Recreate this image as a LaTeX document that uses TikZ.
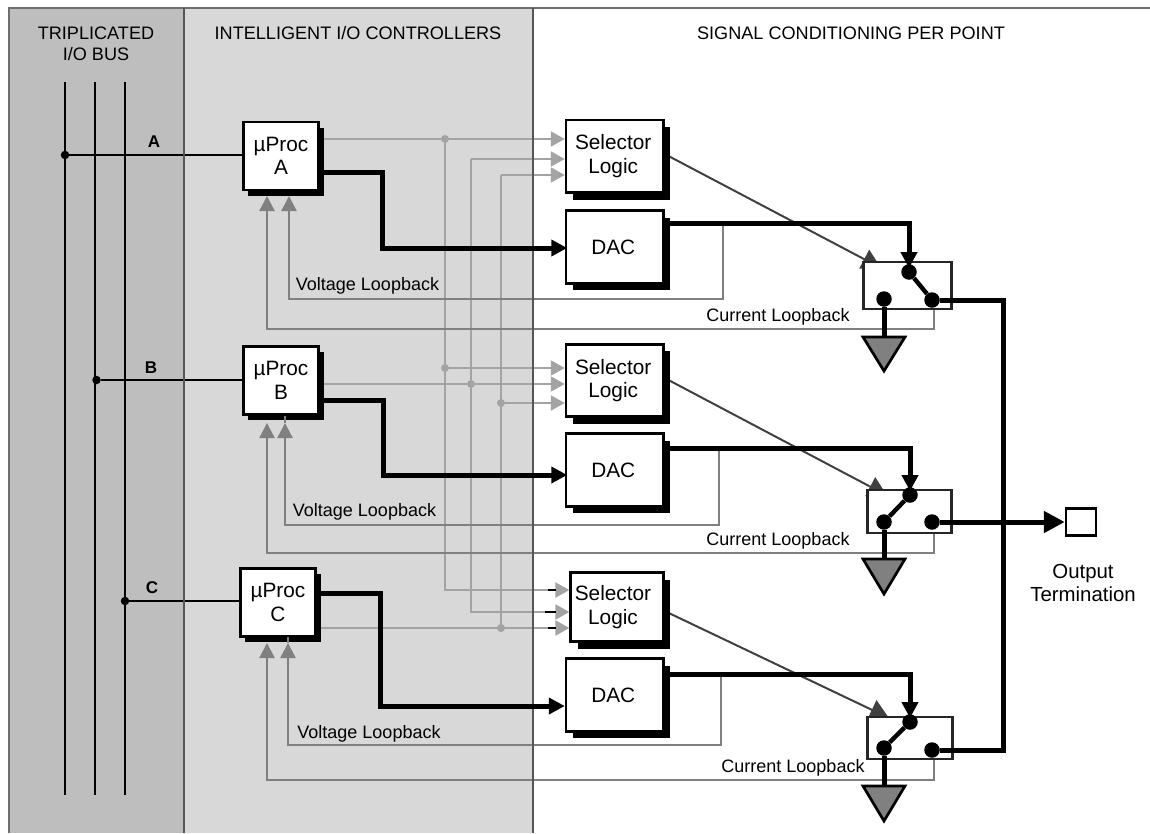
\documentclass[tikz,border=0pt]{standalone}
\usepackage{fontspec}
\setmainfont{Liberation Sans}
\usetikzlibrary{arrows.meta,shadows}
\pgfdeclarelayer{bg}\pgfdeclarelayer{wires}\pgfdeclarelayer{top}
\pgfsetlayers{bg,wires,main,top}
\definecolor{busgray}{HTML}{BEBEBE}
\definecolor{ctlgray}{HTML}{D8D8D8}
\definecolor{rulegray}{HTML}{555555}
\definecolor{selgray}{HTML}{A3A3A3}
\definecolor{loopgray}{HTML}{808080}
\definecolor{diaggray}{HTML}{404040}
\tikzset{
  hdr/.style={font=\fontsize{18.1}{21}\selectfont,align=center,inner sep=0pt,text=black},
  note/.style={font=\fontsize{18}{21}\selectfont,align=center,inner sep=0pt,text=black},
  buslabel/.style={font=\fontsize{17}{20}\bfseries\selectfont,inner sep=0pt},
  blockbase/.style={draw=black,line width=2.6pt,fill=white,inner sep=0pt,align=center,font=\fontsize{20.8}{23.5}\selectfont},
  procbox/.style={blockbase,minimum width=75.4pt,minimum height=68pt,general shadow={fill=black,shadow xshift=5pt,shadow yshift=-5.5pt}},
  sigbox/.style={blockbase,minimum width=97.3pt,minimum height=72.5pt,general shadow={fill=black,shadow xshift=7pt,shadow yshift=-7pt}},
  switchbox/.style={draw=black!85,line width=2.4pt,fill=white,inner sep=0pt},
  termbox/.style={draw=black,line width=2.5pt,fill=white,inner sep=0pt,minimum width=30pt,minimum height=27pt},
  contact/.style={circle,fill=black,inner sep=0pt,minimum size=15.5pt},
  busdot/.style={circle,fill=black,inner sep=0pt,minimum size=8.5pt},
  seldot/.style={circle,fill=selgray,inner sep=0pt,minimum size=8pt},
  busline/.style={draw=black,line width=2.8pt},
  tapline/.style={draw=black,line width=2.2pt},
  selwire/.style={draw=selgray,line width=2.1pt},
  selarrow/.style={selwire,-{Triangle[length=14pt,width=15pt]}},
  loopwire/.style={draw=loopgray,line width=2.3pt,line join=miter},
  looparrow/.style={loopwire,-{Triangle[length=15pt,width=15pt]}},
  power/.style={draw=black,line width=5pt,line join=miter},
  powerarrow/.style={power,-{Triangle[length=16pt,width=16pt]}},
  bigarrow/.style={power,-{Triangle[length=21pt,width=21pt]}},
  diag/.style={draw=diaggray,line width=2pt,-{Triangle[length=19pt,width=21pt]}},
  gnd/.style={draw=black,line width=2.7pt,fill=black!50,line join=miter},
}
\begin{document}
\begin{tikzpicture}[x=1pt,y=-1pt]
\useasboundingbox (0,0) rectangle (1150,833);

% panels
\begin{pgfonlayer}{bg}
  \fill[busgray] (9,8) rectangle (184,833);
  \fill[ctlgray] (184,8) rectangle (533,833);
  \draw[rulegray!85,line width=2.2pt] (1150,8) -- (9,8) -- (9,833);
\end{pgfonlayer}

% headings
\node[hdr] (h1) at (96,43.5) {TRIPLICATED\\I/O BUS};
\node[hdr] (h2) at (358,33) {INTELLIGENT I/O CONTROLLERS};
\node[hdr] (h3) at (851,33) {SIGNAL CONDITIONING PER POINT};

% controllers
\node[procbox] (pA) at (281,156) {µProc\\A};
\node[procbox] (pB) at (281,380.5) {µProc\\B};
\node[procbox] (pC) at (278,602.5) {µProc\\C};

% selector logic and DACs
\node[sigbox] (sA) at (614.7,156.3) {Selector\hspace*{3pt}\\Logic\hspace*{3pt}};
\node[sigbox] (dA) at (614.7,247) {DAC\hspace*{3pt}};
\node[sigbox] (sB) at (614.7,380.5) {Selector\hspace*{3pt}\\Logic\hspace*{3pt}};
\node[sigbox] (dB) at (614.7,470) {DAC\hspace*{3pt}};
\node[sigbox,minimum width=92.6pt,minimum height=69pt] (sC) at (617,607) {Selector\hspace*{8pt}\\Logic\hspace*{8pt}};
\node[sigbox] (dC) at (614.7,695) {DAC\hspace*{3pt}};

% switches
\node[switchbox,minimum width=88pt,minimum height=47pt] (wA) at (907.5,285.5) {};
\node[switchbox,minimum width=84pt,minimum height=43pt] (wB) at (909.5,511.5) {};
\node[switchbox,minimum width=85pt,minimum height=42pt] (wC) at (910,738) {};
\node[termbox] (term) at (1081,522) {};

% output label
\node[note,font=\fontsize{20.4}{23}\selectfont] (outlbl) at (1083,582.5) {Output\\Termination};

% loopback labels
\node[note] (vA) at (367.5,286) {Voltage Loopback};
\node[note] (vB) at (364.5,512) {Voltage Loopback};
\node[note] (vC) at (369,734) {Voltage Loopback};
\node[note] (cA) at (778,317) {Current Loopback};
\node[note] (cB) at (778,541) {Current Loopback};
\node[note] (cC) at (793,768) {Current Loopback};

% bus labels
\node[buslabel] (lA) at (154,142) {A};
\node[buslabel] (lB) at (151,368) {B};
\node[buslabel] (lC) at (152,588) {C};

% bus dots and selector-bus dots
\node[busdot] (tapA) at (65,155) {};
\node[busdot] (tapB) at (96.5,380) {};
\node[busdot] (tapC) at (125,601) {};
\node[seldot] (j1A) at (445,139) {};
\node[seldot] (j1B) at (445,368) {};
\node[seldot] (j2B) at (471,384) {};
\node[seldot] (j3B) at (501,403) {};
\node[seldot] (j3C) at (501,628) {};

% switch contacts (above everything)
\begin{pgfonlayer}{top}
  \node[contact] (cnA) at (909,272) {};
  \node[contact] (lfA) at (884,299) {};
  \node[contact] (rtA) at (932,300) {};
  \node[contact] (cnB) at (910,495) {};
  \node[contact] (lfB) at (884,522) {};
  \node[contact] (rtB) at (932,522) {};
  \node[contact] (cnC) at (910,722) {};
  \node[contact] (lfC) at (884,748) {};
  \node[contact] (rtC) at (932,750) {};
\end{pgfonlayer}

% free ends
\coordinate (busAtop) at (65,82);  \coordinate (busAbot) at (65,795);
\coordinate (busBtop) at (95,82);  \coordinate (busBbot) at (95,795);
\coordinate (busCtop) at (125,82); \coordinate (busCbot) at (125,795);
\coordinate (gA) at (884,337); \coordinate (gB) at (884,559); \coordinate (gC) at (884,786);
\coordinate (vtA) at (289,196); \coordinate (ctA) at (267,196);
\coordinate (vtB) at (285,423); \coordinate (ctB) at (267,423);
\coordinate (vtC) at (288,643); \coordinate (ctC) at (267,643);

\begin{pgfonlayer}{wires}
  % bus
  \draw[busline] (busAtop) -- (busAbot);
  \draw[busline] (busBtop) -- (busBbot);
  \draw[busline] (busCtop) -- (busCbot);
  \draw[tapline] (tapA) -- (pA.west |- tapA);
  \draw[tapline] (tapB) -- (pB.west |- tapB);
  \draw[tapline] (tapC) -- (pC.west |- tapC);

  % selector bus risers
  \draw[selarrow] (j1A) -- (445,590) -- (sC.west |- 0,590);
  \draw[selarrow] (471,159) -- (sA.west |- 0,159);
  \draw[selarrow] (471,159) -- (471,612) -- (sC.west |- 0,612);
  \draw[selarrow] (501,175) -- (sA.west |- 0,175);
  \draw[selwire] (501,175) -- (j3C);

  % selector inputs
  \draw[selarrow] (pA.east |- j1A) -- (sA.west |- j1A);
  \draw[selarrow] (j1B) -- (sB.west |- j1B);
  \draw[selarrow] (pB.east |- j2B) -- (sB.west |- j2B);
  \draw[selarrow] (j3B) -- (sB.west |- j3B);
  \draw[selarrow] (pC.east |- j3C) -- (sC.west |- j3C);

  % loopbacks
  \draw[looparrow] (723,223) -- (723,299) -- (vtA |- 0,299) -- (vtA);
  \draw[looparrow] (934,309) -- (934,329) -- (ctA |- 0,329) -- (ctA);
  \draw[looparrow] (719,448) -- (719,525) -- (vtB |- 0,525) -- (vtB);
  \draw[looparrow] (934,533) -- (934,553) -- (ctB |- 0,553) -- (ctB);
  \draw[looparrow] (721,674) -- (721,745) -- (vtC |- 0,745) -- (vtC);
  \draw[looparrow] (934,759) -- (934,780) -- (ctC |- 0,780) -- (ctC);

  % dividers
  \draw[rulegray,line width=2.4pt] (184,8) -- (184,833);
  \draw[rulegray,line width=2.4pt] (533,8) -- (533,833);

  % selector to switch
  \draw[diag] (sA.east |- 0,154) -- (881,268);
  \draw[diag] (sB.east |- 0,378) -- (887,495.5);
  \draw[diag] (sC.east |- 0,611) -- (889,718);
\end{pgfonlayer}

\begin{pgfonlayer}{top}
  % stubs over shadows
  \draw[loopwire] (285,416) -- (vtB);
  \draw[loopwire] (288,637) -- (vtC);

  % ticks before selector C inputs
  \draw[black,line width=2pt] (548,590) -- (556,590);
  \draw[black,line width=2pt] (545,612) -- (556,612);
  \draw[black,line width=2pt] (548,628) -- (556,628);

  % drive lines
  \draw[powerarrow,shorten >=-2.5pt] (pA.east |- 0,172) -- (382,172) -- (382,248) -- (dA.west |- 0,248);
  \draw[powerarrow,shorten >=-2.5pt] (pB.east |- 0,400) -- (383,400) -- (383,475) -- (dB.west |- 0,475);
  \draw[powerarrow] (pC.east |- 0,593) -- (380,593) -- (380,706) -- (dC.west |- 0,706);

  % DAC outputs
  \draw[powerarrow,shorten >=-4pt] (dA.east |- 0,223) -- (cnA |- 0,223) -- (cnA.north);
  \draw[powerarrow,shorten >=-4pt] (dB.east |- 0,448) -- (cnB |- 0,448) -- (cnB.north);
  \draw[powerarrow,shorten >=-4pt] (dC.east |- 0,674) -- (cnC |- 0,674) -- (cnC.north);

  % switch arms
  \draw[power,line width=4.4pt] (cnA) -- (rtA);
  \draw[power,line width=4.4pt] (cnB) -- (lfB);
  \draw[power,line width=4.4pt] (cnC) -- (lfC);

  % output bus
  \draw[power] (rtA) -- (1003,300) -- (1003,750) -- (rtC);
  \draw[bigarrow] (rtB) -- (term.west |- rtB);

  % grounds
  \draw[power] (lfA) -- (gA);
  \draw[power] (lfB) -- (gB);
  \draw[power] (lfC) -- (gC);
  \draw[gnd] (gA) ++(-21,0) -- ++(42,0) -- (884,371) -- cycle;
  \draw[gnd] (gB) ++(-21,0) -- ++(42,0) -- (884,594) -- cycle;
  \draw[gnd] (gC) ++(-21,0) -- ++(42,0) -- (884,821) -- cycle;
\end{pgfonlayer}
\end{tikzpicture}
\end{document}
